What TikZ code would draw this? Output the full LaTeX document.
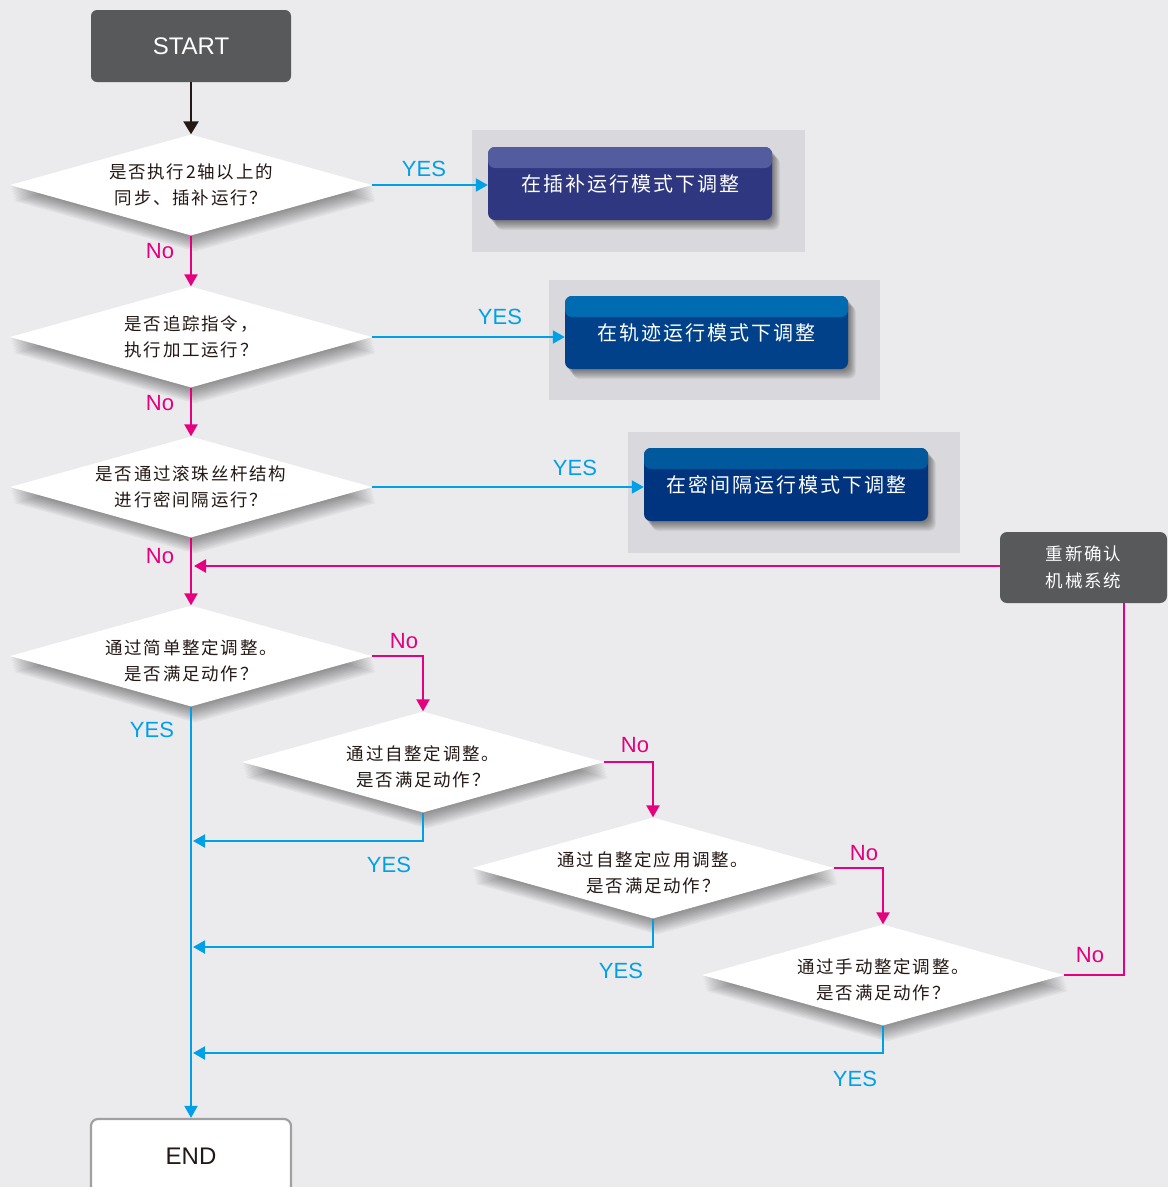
\documentclass[tikz,border=0pt]{standalone}
\usepackage{fontspec}
\setmainfont{Liberation Sans}
\newfontfamily\cjk[LetterSpace=10]{Noto Sans CJK SC}
\usetikzlibrary{arrows.meta,shapes.geometric,calc}
\definecolor{bg}{HTML}{EBEBED}
\definecolor{panel}{HTML}{D9D9DD}
\definecolor{darkg}{HTML}{58595B}
\definecolor{mag}{HTML}{E4007F}
\definecolor{cyanl}{HTML}{00A0E9}
\definecolor{txt}{HTML}{231815}
\definecolor{bandA}{HTML}{545CA0}
\definecolor{bodyA}{HTML}{2E3780}
\definecolor{bandB}{HTML}{006BB0}
\definecolor{bodyB}{HTML}{00418A}
\definecolor{bandC}{HTML}{00589D}
\definecolor{bodyC}{HTML}{00347F}
\definecolor{endline}{HTML}{A0A0A2}
\newcommand{\dnstrut}{\rule{0pt}{25pt}}
\tikzset{
  sh/.style n args={3}{preaction={fill=black, fill opacity=#3, draw=none,
      transform canvas={shift={(#1pt,#2pt)}}}},
  dshadow/.style={sh={0.4}{-1.6}{0.045}, sh={0.8}{-3.2}{0.045}, sh={1.2}{-4.8}{0.045},
    sh={1.6}{-6.4}{0.045}, sh={2.0}{-8.0}{0.045}, sh={2.4}{-9.6}{0.045},
    sh={2.8}{-11.2}{0.045}, sh={3.2}{-12.8}{0.045}, sh={3.6}{-14.4}{0.045},
    sh={4.0}{-16.0}{0.045}},
  bshadow/.style={sh={0.8}{-1.0}{0.05}, sh={1.6}{-2.0}{0.05}, sh={2.4}{-3.0}{0.05},
    sh={3.2}{-4.0}{0.05}, sh={4.0}{-5.0}{0.05}, sh={4.8}{-6.0}{0.05},
    sh={5.6}{-7.0}{0.05}, sh={6.4}{-8.0}{0.05}, sh={7.2}{-9.0}{0.05}, sh={8.0}{-10.0}{0.05}},
  dec/.style={diamond, aspect=3.58, minimum width=362pt, minimum height=101pt,
    inner xsep=-30pt, inner ysep=-10pt, fill=white, align=center, text=txt,
    font=\cjk\fontsize{17.5}{26}\selectfont, dshadow},
  graybox/.style={rounded corners=6pt, fill=darkg, text=white, inner sep=0pt},
  modebox/.style 2 args={rounded corners=7pt, fill=#2, text=white, inner sep=0pt,
    minimum width=284pt, minimum height=73pt,
    font=\cjk\fontsize{20}{24}\selectfont, bshadow,
    path picture={\fill[#1] (path picture bounding box.north west) rectangle ([yshift=-21pt]path picture bounding box.north east);}},
  noline/.style={draw=mag, line width=2.4pt, -{Triangle[width=13pt,length=12pt]}},
  yesline/.style={draw=cyanl, line width=2pt, -{Triangle[width=13pt,length=12pt]}},
  nolbl/.style={text=mag, font=\fontsize{22}{24}\selectfont, inner sep=0pt},
  yeslbl/.style={text=cyanl, font=\fontsize{22}{24}\selectfont, inner sep=0pt},
}
\begin{document}
\begin{tikzpicture}[x=1pt,y=-1pt]
\useasboundingbox (0,0) rectangle (1168,1187);
\fill[bg] (0,0) rectangle (1168,1187);
% panels
\fill[panel] (472,130) rectangle (805,252);
\fill[panel] (549,280) rectangle (880,400);
\fill[panel] (628,432) rectangle (960,553);

% nodes
\node[graybox, minimum width=200pt, minimum height=72pt, font=\fontsize{24}{28}\selectfont] (start) at (191,46) {START};
\node[dec] (d1) at (191,185) {是否执行2轴以上的\\同步、插补运行？};
\node[dec] (d2) at (191,337) {是否追踪指令，\\执行加工运行？};
\node[dec] (d3) at (191,487) {是否通过滚珠丝杆结构\\进行密间隔运行？};
\node[dec] (d4) at (191,656) {\dnstrut 通过简单整定调整。\\是否满足动作？};
\node[dec] (d5) at (423,762) {\dnstrut 通过自整定调整。\\是否满足动作？};
\node[dec] (d6) at (653,868) {\dnstrut 通过自整定应用调整。\\是否满足动作？};
\node[dec] (d7) at (883,975) {\dnstrut 通过手动整定调整。\\是否满足动作？};

\node[modebox={bandA}{bodyA}] (b1) at (630,183.5) {在插补运行模式下调整};
\node[modebox={bandB}{bodyB}, minimum width=283pt] (b2) at (706.5,332.5) {在轨迹运行模式下调整};
\node[modebox={bandC}{bodyC}] (b3) at (786,484.5) {在密间隔运行模式下调整};

\node[graybox, rounded corners=7pt, minimum width=167pt, minimum height=71pt, align=center,
  font=\cjk\fontsize{17.5}{27}\selectfont] (rc) at (1083.5,567.5) {重新确认\\机械系统};

\node[rounded corners=7pt, fill=white, draw=endline, line width=2.2pt, minimum width=200pt,
  minimum height=74pt, inner sep=0pt, text=txt, font=\fontsize{24}{28}\selectfont] (endn) at (191,1156) {END};

% helper coordinates
\coordinate (j3) at (194,566);
\coordinate (j5) at (193,841);
\coordinate (j6) at (193,947);
\coordinate (j7) at (193,1053);
\coordinate (rcb) at (1124,603);

% connectors
\draw[draw=txt, line width=2.4pt, -{Triangle[width=15pt,length=13pt]}] (start.south) -- (d1.north);
\draw[yesline] (d1.east) -- (d1.east -| b1.west);
\draw[yesline] (d2.east) -- (d2.east -| b2.west);
\draw[yesline] (d3.east) -- (d3.east -| b3.west);
\draw[noline] (d1.south) -- (d2.north);
\draw[noline] (d2.south) -- (d3.north);
\draw[noline] (d3.south) -- (d4.north);
\draw[noline] (j3 -| rc.west) -- (j3);
\draw[noline] (d4.east) -| (d5.north);
\draw[noline] (d5.east) -| (d6.north);
\draw[noline] (d6.east) -| (d7.north);
\draw[draw=mag, line width=2.4pt] (d7.east) -| (rcb);
\draw[yesline] (d4.south) -- (endn.north);
\draw[yesline] (d5.south) |- (j5);
\draw[yesline] (d6.south) |- (j6);
\draw[yesline] (d7.south) |- (j7);

% labels
\node[yeslbl] (y1) at (424,169) {YES};
\node[yeslbl] (y2) at (500,317) {YES};
\node[yeslbl] (y3) at (575,468) {YES};
\node[nolbl] (n1) at (160,251) {No};
\node[nolbl] (n2) at (160,403) {No};
\node[nolbl] (n3) at (160,556) {No};
\node[nolbl] (n4) at (404,641) {No};
\node[nolbl] (n5) at (635,745) {No};
\node[nolbl] (n6) at (864,853) {No};
\node[nolbl] (n7) at (1090,955) {No};
\node[yeslbl] (y4) at (152,730) {YES};
\node[yeslbl] (y5) at (389,865) {YES};
\node[yeslbl] (y6) at (621,971) {YES};
\node[yeslbl] (y7) at (855,1079) {YES};
\end{tikzpicture}
\end{document}
